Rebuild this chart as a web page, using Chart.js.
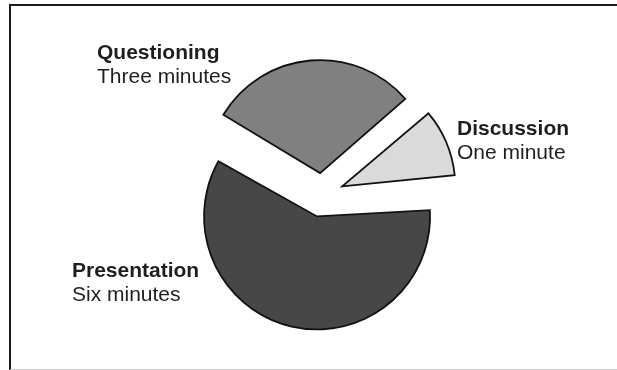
<!DOCTYPE html>
<html>
<head>
<meta charset="utf-8">
<script src="https://cdn.jsdelivr.net/npm/chart.js@4"></script>
<style>
  html, body { margin: 0; padding: 0; background: #fff; overflow: hidden; }
  .frame {
    position: absolute; left: 9px; top: 4px; width: 608px; height: 363px;
    border-left: 2px solid #1c1c1c; border-top: 2px solid #1c1c1c; border-bottom: 1px solid #d4d4d4;
  }
  #pie { position: absolute; left: 0; top: 0; width: 617px; height: 370px; }
</style>
</head>
<body>
<div class="frame"></div>
<canvas id="pie" width="617" height="370"></canvas>
<script>
// minutes spent on each part of the session
const parts = ["Presentation", "Questioning", "Discussion"];
const durations = ["Six minutes", "Three minutes", "One minute"];
const minutes = [6, 3, 1];
const shades = ["#474747", "#808080", "#dadada"];

// where each label sits (left x, baseline of first line)
const labelSpots = [[72, 277], [97, 59], [457, 135]];

// Chart.js grows the outer radius of an offset slice; undo that so all slices match
const evenRadius = {
  id: "evenRadius",
  afterDatasetsUpdate(chart) {
    chart.getDatasetMeta(0).data.forEach(arc => {
      const shift = (arc.options.offset || 0) / 4;
      const fix = 1 - Math.sin(Math.min(Math.PI, arc.circumference));
      arc.outerRadius -= shift * fix;
    });
  }
};

const sliceLabels = {
  id: "sliceLabels",
  afterDraw(chart) {
    const ctx = chart.ctx;
    ctx.save();
    ctx.fillStyle = "#1e1e1e";
    ctx.textBaseline = "alphabetic";
    parts.forEach((name, i) => {
      const [x, y] = labelSpots[i];
      ctx.font = "bold 21px 'Liberation Sans', Arial, sans-serif";
      ctx.fillText(name, x, y);
      ctx.font = "21px 'Liberation Sans', Arial, sans-serif";
      ctx.fillText(durations[i], x, y + 24);
    });
    ctx.restore();
  }
};

new Chart(document.getElementById("pie").getContext("2d"), {
  type: "pie",
  data: {
    labels: parts,
    datasets: [{
      data: minutes,
      backgroundColor: shades,
      borderColor: "#111",
      borderWidth: 1.8,
      borderJoinStyle: "miter",
      offset: 88
    }]
  },
  options: {
    responsive: false,
    animation: false,
    rotation: 85,
    radius: 113,
    layout: { padding: { left: 27, top: 20 } },
    plugins: {
      legend: { display: false },
      tooltip: { enabled: false }
    }
  },
  plugins: [evenRadius, sliceLabels]
});
</script>
</body>
</html>
